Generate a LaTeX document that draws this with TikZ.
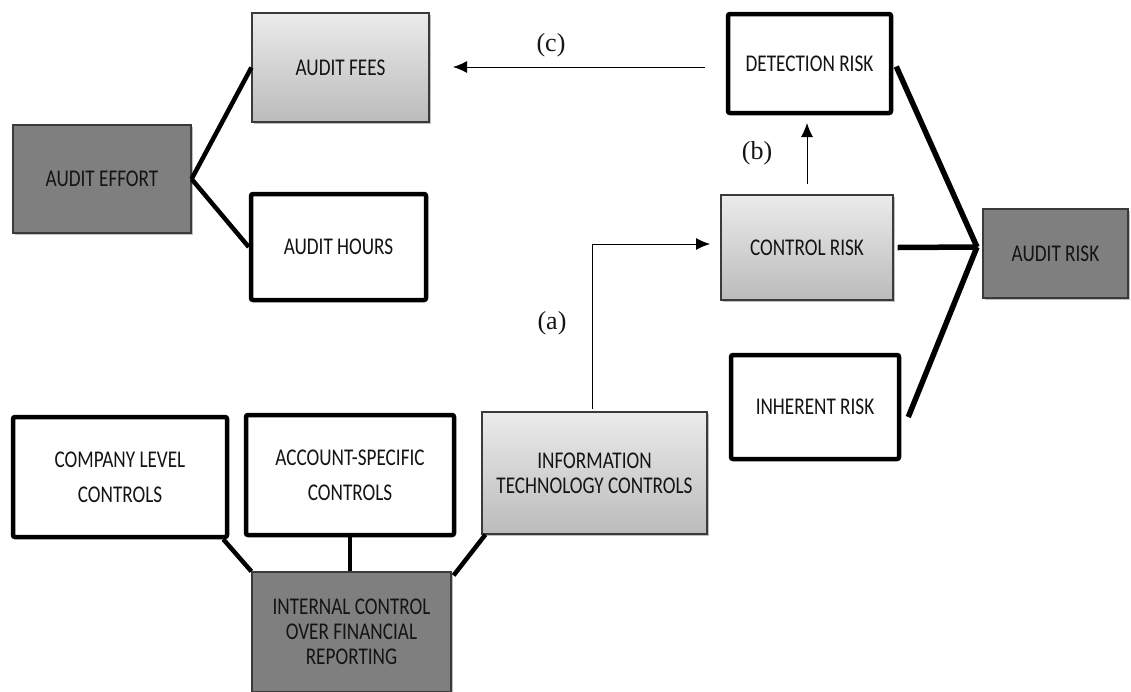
\documentclass[tikz,border=0pt]{standalone}
\usepackage{fontspec}
\setmainfont{Carlito}
\newfontfamily\boxfont[FakeStretch=0.8]{Carlito}
\newfontfamily\labfont{Liberation Serif}
\usetikzlibrary{arrows.meta,shadows,calc}
\definecolor{gtop}{HTML}{EBEBEB}
\definecolor{gbot}{HTML}{BBBBBB}
\definecolor{darkfill}{HTML}{7F7F7F}
\definecolor{edgecol}{HTML}{3A3A3A}
\definecolor{txt}{HTML}{141414}
\begin{document}
\begin{tikzpicture}[x=1pt,y=-1pt,
  base/.style={inner sep=0pt, align=center, text=txt, font=\boxfont\fontsize{24}{25}\selectfont},
  thickbox/.style={base, draw=black, line width=4.5pt, rounded corners=2pt, fill=white},
  gradbox/.style={base, draw=edgecol, line width=1.2pt, top color=gtop, bottom color=gbot,
     drop shadow={shadow xshift=1.5pt, shadow yshift=-2pt, opacity=0.25, fill=black}},
  darkbox/.style={base, draw=edgecol, line width=1.2pt, fill=darkfill,
     drop shadow={shadow xshift=1.5pt, shadow yshift=-2pt, opacity=0.25, fill=black}},
  widelines/.style={font=\boxfont\fontsize{24}{35}\selectfont},
  link/.style={line width=4.5pt, draw=black},
  risklink/.style={line width=5.5pt, draw=black},
  arr/.style={line width=1pt, draw=black, -{Latex[length=14pt,width=12pt]}},
  lab/.style={font=\labfont\fontsize{26}{26}\selectfont, inner sep=0pt, text=txt}
]
\useasboundingbox (0,0) rectangle (1131,691);
\clip (0,0) rectangle (1131,691);

% nodes
\node[darkbox, minimum width=178pt, minimum height=108pt] (effort) at (102,179) {AUDIT EFFORT};
\node[gradbox, minimum width=177pt, minimum height=109pt] (fees) at (340.5,67.5) {AUDIT FEES};
\node[thickbox, minimum width=175pt, minimum height=106pt] (hours) at (338.5,247) {AUDIT HOURS};
\node[thickbox, minimum width=163pt, minimum height=99pt] (detect) at (809.5,63.5) {DETECTION RISK};
\node[gradbox, minimum width=172pt, minimum height=105pt] (control) at (807,247.5) {CONTROL RISK};
\node[darkbox, minimum width=145pt, minimum height=89pt] (audrisk) at (1055.5,253.5) {AUDIT RISK};
\node[thickbox, minimum width=168pt, minimum height=104pt] (inherent) at (815,407) {INHERENT RISK};
\node[gradbox, minimum width=225pt, minimum height=122pt] (itc) at (594.5,473) {INFORMATION\\TECHNOLOGY CONTROLS};
\node[thickbox, widelines, minimum width=214pt, minimum height=120pt] (company) at (120,477) {COMPANY LEVEL\\CONTROLS};
\node[thickbox, widelines, minimum width=208pt, minimum height=120pt] (account) at (350,475) {ACCOUNT-SPECIFIC\\CONTROLS};
\node[darkbox, minimum width=199pt, minimum height=120pt] (icfr) at (351.5,632) {INTERNAL CONTROL\\OVER FINANCIAL\\REPORTING};

% audit effort links
\draw[link] (effort.east) -- (fees.west);
\draw[link] (effort.east) -- (hours.west);

% audit risk junction
\coordinate (J) at (977,247);
\draw[risklink] ([shift={(3,3)}]detect.east) -- (J);
\draw[risklink] ([xshift=4pt]control.east) -- (J);
\draw[risklink] ([shift={(7,10)}]inherent.east) -- (J);

% ICFR links
\draw[link] ([xshift=-6pt]company.south east) -- (icfr.north west);
\draw[link] (account.south) -- (account.south |- icfr.north);
\draw[link] ([xshift=4pt]itc.south west) -- ([shift={(2,4)}]icfr.north east);

% arrows
\coordinate (cstart) at (705,67);
\coordinate (cend) at (453,67);
\draw[arr] (cstart) -- (cend);
\coordinate (bstart) at (807,184);
\coordinate (bend) at (807,123);
\draw[arr] (bstart) -- (bend);
\coordinate (astart) at (592,409);
\coordinate (aend) at (710,244);
\draw[arr] (astart) |- (aend);

% labels
\node[lab] (lc) at (551,45) {(c)};
\node[lab] (lb) at (757,153) {(b)};
\node[lab] (la) at (552,323) {(a)};
\end{tikzpicture}
\end{document}
